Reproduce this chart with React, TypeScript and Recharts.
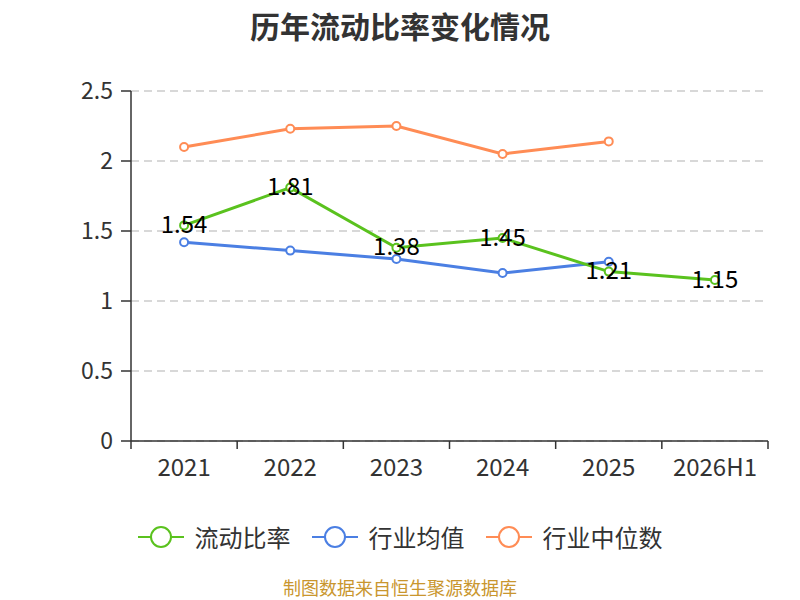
import React from "react";
import { CartesianGrid, LabelList, Line, LineChart, XAxis, YAxis } from "recharts";

const years = ["2021", "2022", "2023", "2024", "2025", "2026H1"];
const currentRatio = [1.54, 1.81, 1.38, 1.45, 1.21, 1.15];
const industryMean = [1.42, 1.36, 1.3, 1.2, 1.28, null];
const industryMedian = [2.1, 2.23, 2.25, 2.05, 2.14, null];
const yTicks = [0, 0.5, 1, 1.5, 2, 2.5];

const GREEN = "#5ac21e";
const BLUE = "#4b7fe3";
const ORANGE = "#ff8c55";
const FONT = "'Noto Sans CJK SC', 'Noto Sans', sans-serif";

const PLOT_LEFT = 131;
const PLOT_RIGHT = 32;
const BAND = (800 - PLOT_LEFT - PLOT_RIGHT) / years.length;

const data = years.map((year, i) => ({
  year,
  ratio: currentRatio[i],
  mean: industryMean[i],
  median: industryMedian[i],
}));

const legendItems = [
  { name: "流动比率", color: GREEN },
  { name: "行业均值", color: BLUE },
  { name: "行业中位数", color: ORANGE },
];

const XTick = (props: any) => {
  const { x, y, payload, index } = props;
  return (
    <g>
      <line x1={x - BAND / 2} x2={x - BAND / 2} y1={y - 8} y2={y} stroke="#333" strokeWidth={1.5} />
      {index === years.length - 1 && (
        <line x1={x + BAND / 2} x2={x + BAND / 2} y1={y - 8} y2={y} stroke="#333" strokeWidth={1.5} />
      )}
      <text x={x} y={y + 16} textAnchor="middle" dominantBaseline="central" fontSize={24} fill="#333" fontFamily={FONT}>
        {payload.value}
      </text>
    </g>
  );
};

const RatioLabel = (props: any) => {
  const { x, y, value } = props;
  return (
    <text x={x} y={y - 3} textAnchor="middle" dominantBaseline="central" fontSize={24} fill="#000" fontFamily={FONT}>
      {value}
    </text>
  );
};

const App: React.FC = () => {
  return (
    <div style={{ position: "absolute", left: 0, top: 0, width: 800, height: 600, background: "#fff", fontFamily: FONT }}>
      <div style={{ position: "absolute", top: 9, width: 800, textAlign: "center", fontSize: 30, lineHeight: "32px", fontWeight: "bold", color: "#333" }}>
        历年流动比率变化情况
      </div>

      <LineChart width={800} height={600} data={data} margin={{ top: 91, right: PLOT_RIGHT, left: 71, bottom: 129 }}>
        <CartesianGrid vertical={false} stroke="#ccc" strokeDasharray="8 5" strokeWidth={1.5} />
        <XAxis dataKey="year" scale="band" height={30} axisLine={{ stroke: "#333", strokeWidth: 1.5 }}
               tickLine={false} tickSize={8} tickMargin={0} interval={0} tick={<XTick />} />
        <YAxis width={60} domain={[0, 2.5]} ticks={yTicks} axisLine={{ stroke: "#333", strokeWidth: 1.5 }}
               tickLine={{ stroke: "#333", strokeWidth: 1.5 }} tickSize={10} tickMargin={8}
               tick={{ fontSize: 23, fill: "#333", fontFamily: FONT }} />
        <Line dataKey="median" stroke={ORANGE} strokeWidth={3} dot={{ r: 4, fill: "#fff", strokeWidth: 2 }}
              activeDot={false} isAnimationActive={false} />
        <Line dataKey="mean" stroke={BLUE} strokeWidth={3} dot={{ r: 4, fill: "#fff", strokeWidth: 2 }}
              activeDot={false} isAnimationActive={false} />
        <Line dataKey="ratio" stroke={GREEN} strokeWidth={3} dot={{ r: 4, fill: "#fff", strokeWidth: 2 }}
              activeDot={false} isAnimationActive={false}>
          <LabelList dataKey="ratio" content={<RatioLabel />} />
        </Line>
      </LineChart>

      <div style={{ position: "absolute", top: 522, width: 800, display: "flex", justifyContent: "center", alignItems: "center" }}>
        {legendItems.map((item, i) => (
          <div key={item.name} style={{ display: "flex", alignItems: "center", marginLeft: i === 0 ? 0 : 21 }}>
            <svg width={46} height={24} style={{ marginRight: 11 }}>
              <line x1={0} x2={46} y1={12} y2={12} stroke={item.color} strokeWidth={2} />
              <circle cx={23} cy={12} r={10} fill="#fff" stroke={item.color} strokeWidth={2} />
            </svg>
            <span style={{ fontSize: 24, lineHeight: "30px", color: "#333" }}>{item.name}</span>
          </div>
        ))}
      </div>

      <div style={{ position: "absolute", top: 577, width: 800, textAlign: "center", fontSize: 18, lineHeight: "20px", color: "#c9962e" }}>
        制图数据来自恒生聚源数据库
      </div>
    </div>
  );
};

export default App;
